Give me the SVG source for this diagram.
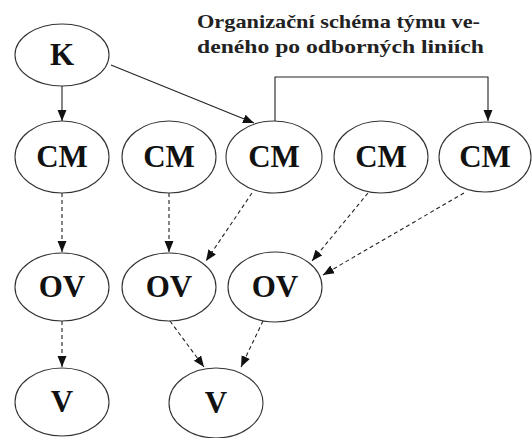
<svg xmlns="http://www.w3.org/2000/svg" width="532" height="438" viewBox="0 0 532 438">
  <style>
    .node ellipse { fill: #fff; stroke: #333; stroke-width: 1.1; }
    .node text { font-family: "Liberation Serif", "Times New Roman", serif; font-weight: bold; font-size: 31px; fill: #111; text-anchor: middle; }
    .edge { fill: none; stroke: #222; stroke-width: 1.1; }
    .dashed { stroke-dasharray: 4 3; }
    .title { font-family: "Liberation Serif", "Times New Roman", serif; font-weight: bold; font-size: 19px; fill: #222; }
  </style>
  <defs>
    <marker id="arrow" markerUnits="userSpaceOnUse" markerWidth="12" markerHeight="10" refX="11" refY="4.5" orient="auto">
      <path d="M0,0 L11,4.5 L0,9 z" fill="#111"/>
    </marker>
  </defs>
  <rect width="532" height="438" fill="#fff"/>

  <!-- title -->
  <text class="title" x="197" y="28" textLength="283" lengthAdjust="spacingAndGlyphs">Organizační schéma týmu ve-</text>
  <text class="title" x="197" y="53" textLength="287" lengthAdjust="spacingAndGlyphs">deného po odborných liniích</text>

  <!-- connectors -->
  <g id="connectors">
    <line class="edge" x1="62" y1="86" x2="62" y2="121" marker-end="url(#arrow)"/>
    <line class="edge" x1="111" y1="65" x2="254" y2="123" marker-end="url(#arrow)"/>
    <polyline class="edge" points="275,121 275,77 488,77 488,121" marker-end="url(#arrow)"/>
    <line class="edge dashed" x1="62" y1="193" x2="62" y2="252" marker-end="url(#arrow)"/>
    <line class="edge dashed" x1="169" y1="193" x2="169" y2="252" marker-end="url(#arrow)"/>
    <line class="edge dashed" x1="252" y1="193" x2="206" y2="261" marker-end="url(#arrow)"/>
    <line class="edge dashed" x1="368" y1="193" x2="312" y2="261" marker-end="url(#arrow)"/>
    <line class="edge dashed" x1="464" y1="193" x2="323" y2="275" marker-end="url(#arrow)"/>
    <line class="edge dashed" x1="62" y1="321" x2="62" y2="367" marker-end="url(#arrow)"/>
    <line class="edge dashed" x1="170" y1="321" x2="204" y2="367" marker-end="url(#arrow)"/>
    <line class="edge dashed" x1="263" y1="321" x2="241" y2="367" marker-end="url(#arrow)"/>
  </g>

  <!-- nodes -->
  <g id="K" class="node"><ellipse cx="62" cy="55" rx="47" ry="31"/><text x="62" y="65">K</text></g>
  <g id="CM1" class="node"><ellipse cx="62" cy="157" rx="47" ry="36"/><text x="62" y="167">CM</text></g>
  <g id="CM2" class="node"><ellipse cx="169" cy="157" rx="47" ry="36"/><text x="169" y="167">CM</text></g>
  <g id="CM3" class="node"><ellipse cx="274" cy="157" rx="48" ry="36"/><text x="274" y="167">CM</text></g>
  <g id="CM4" class="node"><ellipse cx="381" cy="157" rx="47" ry="36"/><text x="381" y="167">CM</text></g>
  <g id="CM5" class="node"><ellipse cx="485" cy="157" rx="46" ry="35"/><text x="485" y="167">CM</text></g>
  <g id="OV1" class="node"><ellipse cx="62" cy="287" rx="47" ry="34"/><text x="62" y="297">OV</text></g>
  <g id="OV2" class="node"><ellipse cx="169" cy="287" rx="47" ry="34"/><text x="169" y="297">OV</text></g>
  <g id="OV3" class="node"><ellipse cx="275" cy="287" rx="47" ry="35"/><text x="275" y="297">OV</text></g>
  <g id="V1" class="node"><ellipse cx="62" cy="402" rx="47" ry="34"/><text x="62" y="412">V</text></g>
  <g id="V2" class="node"><ellipse cx="216" cy="403" rx="47" ry="35"/><text x="216" y="413">V</text></g>
</svg>
